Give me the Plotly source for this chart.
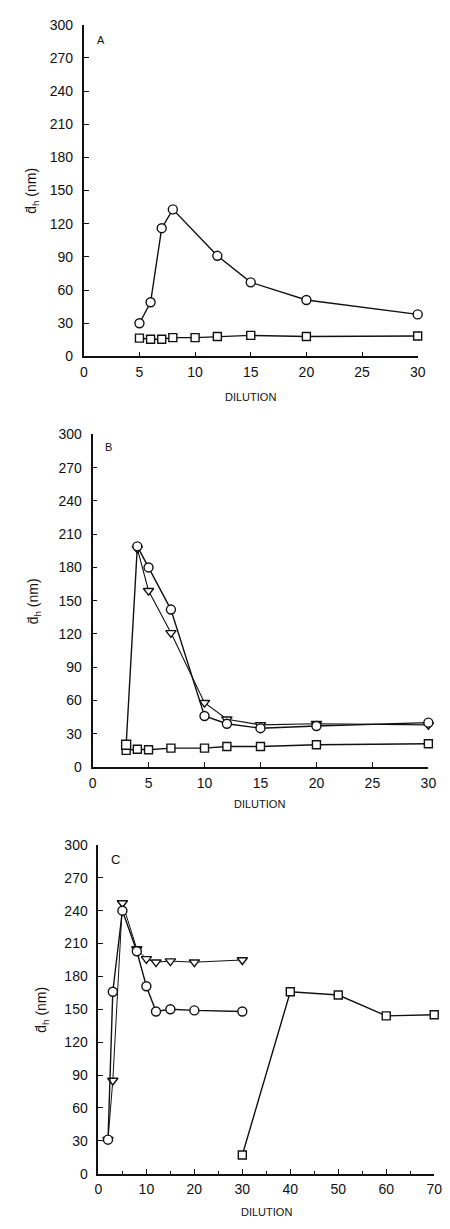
import plotly.graph_objects as go

W, H = 450, 1229

# Panel A: dilution series
a_circ_x = [5, 6, 7, 8, 12, 15, 20, 30]
a_circ_y = [30, 49, 116, 133, 91, 67, 51, 38]
a_sq_x = [5, 6, 7, 8, 10, 12, 15, 20, 30]
a_sq_y = [16.5, 15.5, 15.5, 17, 17, 18, 19, 18, 18.5]

# Panel B
b_circ_x = [3, 4, 5, 7, 10, 12, 15, 20, 30]
b_circ_y = [20, 199, 180, 142, 46, 39, 35, 37, 40]
b_tri_x = [4, 5, 7, 10, 12, 15, 20, 30]
b_tri_y = [197, 159, 121, 58, 43, 38, 39, 38]
b_sq_x = [3, 4, 5, 7, 10, 12, 15, 20, 30]
b_sq_y = [15, 16, 15.5, 17, 17, 18.5, 18.5, 20, 21]

# Panel C
c_circ_x = [2, 3, 5, 8, 10, 12, 15, 20, 30]
c_circ_y = [31, 166, 240, 203, 171, 148, 150, 149, 148]
c_tri_x = [2, 3, 5, 8, 10, 12, 15, 20, 30]
c_tri_y = [31, 85, 247, 205, 196, 193, 194, 193, 195]
c_sq_x = [30, 40, 50, 60, 70]
c_sq_y = [17, 166, 163, 144, 145]

y_ticks = [0, 30, 60, 90, 120, 150, 180, 210, 240, 270, 300]

INK = "#111111"
FONT = "Liberation Sans"


def px_x(p):
    return p / W


def px_y(p):
    return 1 - p / H


def series(x, y, symbol, xa, ya, lw=1.4, size=9):
    return go.Scatter(
        x=x, y=y, mode="lines+markers", xaxis=xa, yaxis=ya,
        line=dict(color=INK, width=lw),
        marker=dict(symbol=symbol, size=size, color="white",
                    line=dict(color=INK, width=1.4)),
        showlegend=False, hoverinfo="x+y", cliponaxis=False,
    )


fig = go.Figure()

# A
fig.add_trace(series(a_sq_x, a_sq_y, "square", "x", "y", size=8))
fig.add_trace(series(a_circ_x, a_circ_y, "circle", "x", "y"))
# B
fig.add_trace(series(b_sq_x, b_sq_y, "square", "x2", "y2", size=8))
fig.add_trace(series(b_tri_x, b_tri_y, "triangle-down", "x2", "y2", lw=1.1, size=9))
b_symbols = ["square"] + ["circle"] * (len(b_circ_x) - 1)
fig.add_trace(series(b_circ_x, b_circ_y, b_symbols, "x2", "y2"))
# C
fig.add_trace(series(c_sq_x, c_sq_y, "square", "x3", "y3", size=8))
fig.add_trace(series(c_tri_x, c_tri_y, "triangle-down", "x3", "y3", lw=1.0, size=9))
fig.add_trace(series(c_circ_x, c_circ_y, "circle", "x3", "y3"))

tick_font = dict(family=FONT, size=14, color=INK)


def xaxis(dom, rng, dtick, minor=False, anchor="y"):
    ax = dict(
        domain=[px_x(dom[0]), px_x(dom[1])], range=rng, dtick=dtick, tick0=0,
        showline=True, linecolor=INK, linewidth=1.6, mirror=False,
        ticks="inside", ticklen=5, tickwidth=1.2, tickcolor=INK,
        showgrid=False, zeroline=False, tickfont=tick_font, anchor=anchor,
        ticklabelstandoff=2,
    )
    if minor:
        ax["minor"] = dict(dtick=5, ticks="inside", ticklen=3, tickwidth=1,
                           tickcolor=INK, showgrid=False)
    return ax


def yaxis(dom, anchor="x"):
    return dict(
        domain=[px_y(dom[1]), px_y(dom[0])], range=[0, 300],
        tickvals=y_ticks, showline=True, linecolor=INK, linewidth=1.8,
        ticks="inside", ticklen=5, tickwidth=1.2, tickcolor=INK,
        showgrid=False, zeroline=False, tickfont=tick_font, anchor=anchor,
        ticklabelstandoff=6,
    )


fig.update_layout(
    width=W, height=H, margin=dict(l=0, r=0, t=0, b=0),
    paper_bgcolor="white", plot_bgcolor="white",
    xaxis=xaxis((82, 425), [0, 30], 5, anchor="y"),
    yaxis=yaxis((17, 353), anchor="x"),
    xaxis2=xaxis((91, 436), [0, 30], 5, anchor="y2"),
    yaxis2=yaxis((432, 769), anchor="x2"),
    xaxis3=xaxis((97, 442), [0, 70], 10, minor=True, anchor="y3"),
    yaxis3=yaxis((848, 1181), anchor="x3"),
)

label_font = dict(family=FONT, size=11, color=INK)
title_font = dict(family=FONT, size=14, color=INK)
ytitle = "d\u0304<sub>h</sub> (nm)"

annotations = [
    # x titles
    (253, 394, "DILUTION", 0, label_font),
    (263, 806, "DILUTION", 0, label_font),
    (270, 1220, "DILUTION", 0, label_font),
    # y titles
    (28, 185, ytitle, -90, title_font),
    (31, 601, ytitle, -90, title_font),
    (39, 1015, ytitle, -90, title_font),
    # panel letters
    (100, 32, "A", 0, dict(family=FONT, size=11, color=INK)),
    (107, 445, "B", 0, dict(family=FONT, size=11, color=INK)),
    (115, 863, "C", 0, dict(family=FONT, size=13, color=INK)),
]
for x, y, text, ang, font in annotations:
    fig.add_annotation(
        x=px_x(x), y=px_y(y), xref="paper", yref="paper", text=text,
        showarrow=False, textangle=ang, font=font,
        xanchor="center", yanchor="middle",
    )

fig.write_html("out.html")
